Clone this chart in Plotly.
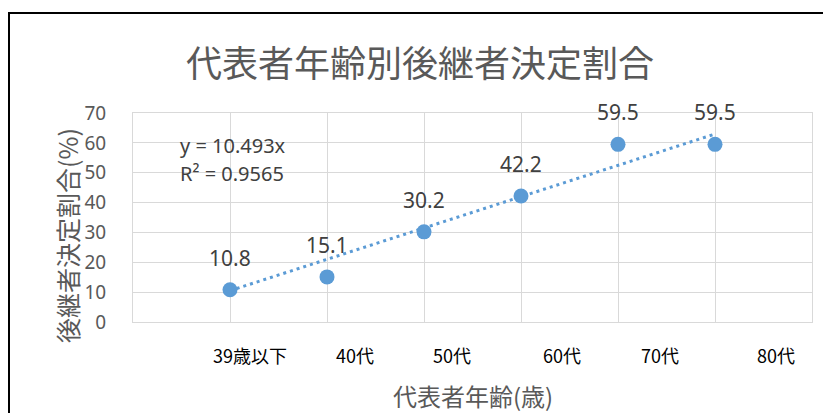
import numpy as np
import plotly.graph_objects as go

# ---- data ----
categories = ["39歳以下", "40代", "50代", "60代", "70代", "80代"]
x_values = [1, 2, 3, 4, 5, 6]
rates = [10.8, 15.1, 30.2, 42.2, 59.5, 59.5]
y_ticks = [0, 10, 20, 30, 40, 50, 60, 70]

title_text = "代表者年齢別後継者決定割合"
x_title = "代表者年齢(歳)"
y_title = "後継者決定割合(%)"

# label positions (x-axis units) for the category text boxes
cat_label_pos = [1.206, 2.289, 3.289, 4.423, 5.433, 6.63]

# ---- linear trendline through origin (Excel style) ----
xa = np.array(x_values, dtype=float)
ya = np.array(rates, dtype=float)
slope = float((xa * ya).sum() / (xa * xa).sum())
pred = slope * xa
sse = float(((ya - pred) ** 2).sum())
sst = float(((ya - ya.mean()) ** 2).sum())
r2 = 1 - sse / sst
trend_x = [xa.min(), xa.max()]
trend_y = [slope * v for v in trend_x]

BLUE = "#5B9BD5"
JP = "Noto Sans CJK JP"
NUM = "Noto Sans, Noto Sans CJK JP"

fig = go.Figure()
fig.add_trace(go.Scatter(
    x=trend_x, y=trend_y, mode="lines",
    line=dict(color=BLUE, width=3, dash="3px,4px"),
    hoverinfo="skip", showlegend=False,
))
fig.add_trace(go.Scatter(
    x=x_values, y=rates, mode="markers",
    marker=dict(color=BLUE, size=15),
    showlegend=False,
))

annotations = []
for xv, yv in zip(x_values, rates):
    annotations.append(dict(
        x=xv, y=yv, xref="x", yref="y", text=f"{yv:.1f}", showarrow=False,
        yshift=32, font=dict(family=NUM, size=21, color="#404040"),
    ))
for pos, lab in zip(cat_label_pos, categories):
    annotations.append(dict(
        x=pos, y=-0.158, xref="x", yref="paper", text=lab, showarrow=False,
        xanchor="center", yanchor="middle",
        font=dict(family=JP, size=18, color="#000000"),
    ))
# trendline equation and R^2
annotations.append(dict(
    x=0.46, y=(322 - 145) / 209, xref="x", yref="paper", xanchor="left", yanchor="middle",
    showarrow=False, text=f"y = {slope:.3f}x",
    font=dict(family=NUM, size=20, color="#404040"),
))
annotations.append(dict(
    x=0.46, y=(322 - 173) / 209, xref="x", yref="paper", xanchor="left", yanchor="middle",
    showarrow=False, text=f"R² = {r2:.4f}",
    font=dict(family=NUM, size=20, color="#404040"),
))
# title
annotations.append(dict(
    x=(420 - 133) / 679, y=(322 - 61) / 209, xref="paper", yref="paper",
    text=title_text, showarrow=False, xanchor="center", yanchor="middle",
    font=dict(family=JP, size=36, color="#595959"),
))
# x axis title
annotations.append(dict(
    x=(473 - 133) / 679, y=(322 - 395) / 209, xref="paper", yref="paper",
    text=x_title, showarrow=False, xanchor="center", yanchor="middle",
    font=dict(family=JP, size=24, color="#595959"),
))
# y axis title
annotations.append(dict(
    x=(67 - 133) / 679, y=(322 - 236) / 209, xref="paper", yref="paper",
    text=y_title, showarrow=False, xanchor="center", yanchor="middle",
    textangle=-90,
    font=dict(family=JP, size=25, color="#595959"),
))

fig.update_layout(
    width=823, height=413,
    margin=dict(l=133, r=11, t=113, b=91),
    paper_bgcolor="white", plot_bgcolor="white",
    annotations=annotations,
    shapes=[dict(
        type="rect", xref="paper", yref="paper",
        x0=(9 - 133) / 679, x1=(830 - 133) / 679,
        y0=(322 - 420) / 209, y1=(322 - 13) / 209,
        line=dict(color="black", width=2), fillcolor="rgba(0,0,0,0)",
        layer="below",
    )],
    xaxis=dict(
        range=[0, 7], dtick=1, tick0=0, showticklabels=False,
        showgrid=True, gridcolor="#D9D9D9", gridwidth=1,
        zeroline=False, showline=True, linecolor="#D9D9D9", linewidth=1, mirror=True,
        ticks="",
    ),
    yaxis=dict(
        range=[0, 70], tickvals=y_ticks,
        showgrid=True, gridcolor="#D9D9D9", gridwidth=1,
        zeroline=False, showline=True, linecolor="#D9D9D9", linewidth=1, mirror=True,
        ticks="", ticklabelstandoff=22,
        tickfont=dict(family=NUM, size=19, color="#595959"),
    ),
)

fig.write_html("out.html")
